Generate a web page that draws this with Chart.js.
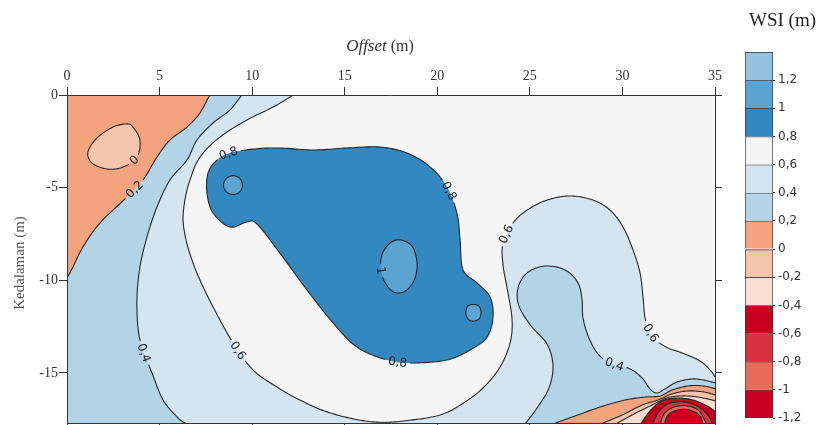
<!DOCTYPE html>
<html>
<head>
<meta charset="utf-8">
<script src="https://cdn.jsdelivr.net/npm/chart.js@4.4.1/dist/chart.umd.min.js"></script>
<style>
  html, body { margin: 0; padding: 0; background: #fff; }
  #wrap { position: relative; width: 822px; height: 425px; overflow: hidden; }
  #main { position: absolute; left: 0; top: 0; }
  #bar { position: absolute; left: 740px; top: 0; }
</style>
</head>
<body>
<div id="wrap">
  <canvas id="main" width="822" height="425"></canvas>
  <canvas id="bar" width="82" height="425"></canvas>
</div>
<script>
// ---- axes ----
const offsetTicks = [0, 5, 10, 15, 20, 25, 30, 35];
const offsetLabels = ['0', '5', '10', '15', '20', '25', '30', '35'];
const depthTicks = [-15, -10, -5, 0];
const depthLabels = ['-15', '-10', '-5', '0'];
const offsetMin = 0, offsetMax = 35;
const depthMin = -17.7, depthMax = 0;

// ---- WSI classes (top edge of each band, then its colour) ----
const bandEdges = [1.4, 1.2, 1, 0.8, 0.6, 0.4, 0.2, 0, -0.2, -0.4, -0.6, -0.8, -1, -1.2];
const bandColors = ['#92c4e0', '#5ba4d1', '#3388c0', '#f5f5f5', '#d4e5ef', '#b3d4e6',
                    '#f3a47f', '#f6c4ab', '#f9ddd2', '#c8001f', '#d93142', '#e86b5c', '#c90020'];
const bandLabels = ['1,2', '1', '0,8', '0,6', '0,4', '0,2', '0', '-0,2', '-0,4', '-0,6', '-0,8', '-1', '-1,2'];

// ---- isolines, [offset m, depth m] ----
const iso06 = [[12.7,0.4],[12.21,0],[11.13,-0.65],[9.72,-1.35],[8.26,-2.27],[7.18,-3.35],[6.64,-4.59],
  [6.37,-5.67],[6.27,-6.74],[6.43,-7.82],[6.75,-8.90],[7.18,-9.98],[7.89,-11.44],[8.97,-13.38],
  [10.05,-14.84],[11.34,-15.76],[12.58,-16.46],[14.04,-17.10],[15.83,-17.55],[17.18,-17.66],
  [18.53,-17.55],[20.15,-17.27],[21.34,-16.67],[22.47,-15.81],[23.39,-14.68],[23.93,-13.38],
  [24.04,-12.14],[23.82,-10.68],[23.55,-9.17],[23.55,-7.99],[24.09,-6.91],[24.85,-6.21],
  [25.93,-5.67],[27.17,-5.45],[28.41,-5.67],[29.33,-6.21],[30.03,-7.12],[30.57,-8.36],
  [30.95,-9.60],[31.11,-10.90],[31.22,-12.03],[31.44,-12.68],[31.87,-13.27],[32.46,-13.65],
  [33.22,-13.92],[34.19,-14.35],[34.78,-14.89],[35.05,-15.27],[35.5,-15.7]];
const iso04West = [[9.9,0.4],[9.45,0],[8.80,-0.81],[7.89,-1.51],[7.02,-2.43],[6.48,-3.51],[5.56,-4.59],
  [4.86,-6.04],[4.32,-7.66],[3.94,-9.28],[3.78,-10.90],[3.83,-12.52],[4.05,-13.60],[4.59,-15.00],
  [5.19,-16.46],[6.00,-17.43],[6.54,-17.81],[6.9,-18.2]];
const iso02West = [[8.1,0.4],[7.72,0],[7.18,-0.97],[6.48,-1.73],[5.56,-2.43],[4.86,-3.35],[4.10,-4.59],
  [3.24,-5.50],[1.78,-6.91],[0.86,-8.20],[0.32,-9.28],[0,-9.87],[-0.4,-10.5]];
const iso00West = [[3.56,-1.73],[3.94,-2.43],[3.78,-3.35],[3.02,-3.89],[2.16,-3.99],[1.35,-3.67],
  [1.13,-3.08],[1.62,-2.32],[2.48,-1.73],[3.24,-1.56]];
const iso08 = [[8.10,-3.51],[8.80,-3.13],[10.15,-2.91],[11.50,-2.86],[13.29,-2.97],[15.12,-2.86],
  [16.91,-2.81],[18.36,-3.13],[19.61,-3.88],[20.52,-4.96],[21.06,-6.37],[21.23,-7.82],[21.39,-9.44],
  [22.15,-10.14],[22.85,-10.90],[23.01,-11.98],[22.69,-13.06],[21.77,-13.76],[20.52,-14.30],
  [18.69,-14.46],[17.28,-14.30],[15.66,-13.60],[14.37,-12.30],[12.96,-10.52],[11.50,-8.53],
  [10.26,-6.96],[9.72,-6.85],[8.80,-7.12],[7.89,-6.37],[7.56,-5.29],[7.62,-4.21]];
const iso10West = [[9.48,-4.86],[9.33,-4.50],[8.97,-4.35],[8.61,-4.50],[8.45,-4.86],[8.61,-5.22],
  [8.97,-5.37],[9.33,-5.22]];
const iso10Mid = [[17.99,-7.82],[18.63,-8.15],[18.90,-9.01],[18.80,-9.87],[18.36,-10.52],[17.82,-10.68],
  [17.34,-10.36],[16.96,-9.55],[17.01,-8.63],[17.45,-7.99]];
const iso10East = [[21.66,-11.38],[22.15,-11.33],[22.36,-11.66],[22.25,-12.09],[21.82,-12.19],[21.55,-11.87]];
const iso04East = [[24.4,-18.2],[24.74,-17.75],[25.39,-16.89],[26.03,-15.81],[26.25,-14.62],[25.93,-13.44],
  [25.06,-12.46],[24.41,-11.38],[24.36,-10.41],[24.85,-9.60],[25.82,-9.23],[26.90,-9.44],[27.60,-10.14],
  [27.82,-11.06],[27.87,-12.03],[28.19,-13.11],[28.73,-14.03],[29.49,-14.51],[30.41,-14.78],
  [31.06,-15.27],[31.49,-15.86],[31.87,-16.08],[32.30,-15.86],[32.95,-15.49],[33.92,-15.32],
  [35.05,-15.54],[35.5,-15.7]];
const iso02East = [[26.09,-17.81],[27.44,-17.32],[28.79,-16.84],[30.14,-16.46],[31.22,-16.30],[32.03,-16.24],
  [32.68,-15.92],[33.54,-15.70],[34.35,-15.70],[35.05,-15.86],[35.5,-16.0]];
const iso00East = [[28.68,-17.81],[29.98,-17.27],[31.06,-16.73],[31.92,-16.46],[32.68,-16.13],[33.54,-15.97],
  [34.35,-16.02],[35.05,-16.19],[35.5,-16.3]];
const isoM02East = [[29.54,-17.81],[30.63,-17.21],[31.60,-16.73],[32.41,-16.35],[33.22,-16.24],[34.08,-16.30],
  [35.05,-16.51],[35.5,-16.65]];
const isoM04East = [[30.95,-17.81],[31.49,-17.05],[32.14,-16.51],[32.95,-16.35],[33.81,-16.46],[34.57,-16.78],
  [35.05,-17.10],[35.4,-17.4]];
const isoM06East = [[31.60,-17.81],[31.92,-17.16],[32.46,-16.67],[33.27,-16.57],[34.03,-16.78],[34.62,-17.27],
  [34.89,-17.81]];
const isoM08East = [[32.03,-17.81],[32.25,-17.21],[32.79,-16.84],[33.49,-16.78],[34.14,-17.05],[34.57,-17.81]];
const isoM10East = [[32.25,-17.81],[32.46,-17.27],[33.00,-17.00],[33.65,-17.00],[34.19,-17.32],[34.35,-17.81]];

// ---- inline isoline labels ----
const isoLabels = [
  { text: '0',   line: iso00West,  at: [3.5, -3.4] },
  { text: '0,2', line: iso02West,  at: [3.62, -5.02] },
  { text: '0,4', line: iso04West,  at: [4.0, -14.03] },
  { text: '0,6', line: iso06,      at: [9.34, -13.76] },
  { text: '0,8', line: iso08,      at: [8.75, -3.35] },
  { text: '0,8', line: iso08,      at: [20.52, -5.24] },
  { text: '0,8', line: iso08,      at: [17.82, -14.41] },
  { text: '1',   line: iso10Mid,   at: [16.96, -9.44] },
  { text: '0,6', line: iso06,      at: [23.93, -7.66] },
  { text: '0,6', line: iso06,      at: [31.54, -12.84] },
  { text: '0,4', line: iso04East,  at: [29.49, -14.62] }
];

const idx = v => bandEdges.findIndex(e => Math.abs(e - v) < 1e-9);
const below = lvl => bandColors[idx(lvl)];       // band just under the level
const above = lvl => bandColors[idx(lvl) - 1];   // band just over the level

// filled areas, painted from the outside in; "edge" closes an open isoline outside the frame
const regions = [
  { pts: iso06,      color: below(0.6),  edge: [[36.5,-15.7],[36.5,-19],[-1,-19],[-1,1],[12.7,1]] },
  { pts: iso04West,  color: below(0.4),  edge: [[6.9,-19],[-1,-19],[-1,1],[9.9,1]] },
  { pts: iso04East,  color: below(0.4),  edge: [[36.5,-15.7],[36.5,-19],[24.4,-19]] },
  { pts: iso02West,  color: below(0.2),  edge: [[-1,-10.5],[-1,1],[8.1,1]] },
  { pts: iso02East,  color: below(0.2),  edge: [[36.5,-16.0],[36.5,-19],[26.09,-19]] },
  { pts: iso00West,  color: below(0),    closed: true },
  { pts: iso00East,  color: below(0),    edge: [[36.5,-16.3],[36.5,-19],[28.68,-19]] },
  { pts: isoM02East, color: below(-0.2), edge: [[36.5,-16.65],[36.5,-19],[29.54,-19]] },
  { pts: isoM04East, color: below(-0.4), edge: [[36.5,-17.4],[36.5,-19],[30.95,-19]] },
  { pts: isoM06East, color: below(-0.6), edge: [[34.89,-19],[31.60,-19]] },
  { pts: isoM08East, color: below(-0.8), edge: [[34.57,-19],[32.03,-19]] },
  { pts: isoM10East, color: below(-1),   edge: [[34.35,-19],[32.25,-19]] },
  { pts: iso08,      color: above(0.8),  closed: true },
  { pts: iso10West,  color: above(1),    closed: true },
  { pts: iso10Mid,   color: above(1),    closed: true },
  { pts: iso10East,  color: above(1),    closed: true }
];

// Catmull-Rom spline through pixel points, returned as a dense polyline
function smooth(p, closed) {
  const n = p.length, out = [];
  const at = i => closed ? p[(i + n) % n] : p[Math.max(0, Math.min(n - 1, i))];
  const segs = closed ? n : n - 1;
  for (let i = 0; i < segs; i++) {
    const p0 = at(i - 1), p1 = at(i), p2 = at(i + 1), p3 = at(i + 2);
    const c1 = { x: p1.x + (p2.x - p0.x) / 6, y: p1.y + (p2.y - p0.y) / 6 };
    const c2 = { x: p2.x - (p3.x - p1.x) / 6, y: p2.y - (p3.y - p1.y) / 6 };
    for (let k = 0; k < 12; k++) {
      const t = k / 12, u = 1 - t;
      out.push({
        x: u*u*u*p1.x + 3*u*u*t*c1.x + 3*u*t*t*c2.x + t*t*t*p2.x,
        y: u*u*u*p1.y + 3*u*u*t*c1.y + 3*u*t*t*c2.y + t*t*t*p2.y
      });
    }
  }
  if (!closed) out.push(p[n - 1]);
  return out;
}

const toPx = (chart, d) => ({ x: chart.scales.x.getPixelForValue(d[0]), y: chart.scales.y.getPixelForValue(d[1]) });

const labelFont = '12px "DejaVu Sans", Verdana, sans-serif';

const contourPlugin = {
  id: 'wsiContours',
  beforeDraw(chart) {
    const { ctx, chartArea: a } = chart;
    ctx.save();
    ctx.fillStyle = '#fff';
    ctx.fillRect(0, 0, chart.width, chart.height);
    ctx.beginPath(); ctx.rect(a.left, a.top, a.right - a.left, a.bottom - a.top); ctx.clip();
    ctx.fillStyle = bandColors[idx(0.8)];
    ctx.fillRect(a.left, a.top, a.right - a.left, a.bottom - a.top);

    const curves = regions.map(r => ({ r, path: smooth(r.pts.map(d => toPx(chart, d)), !!r.closed) }));
    for (const { r, path } of curves) {
      ctx.beginPath();
      path.forEach((q, i) => i ? ctx.lineTo(q.x, q.y) : ctx.moveTo(q.x, q.y));
      (r.edge || []).forEach(d => { const q = toPx(chart, d); ctx.lineTo(q.x, q.y); });
      ctx.closePath();
      ctx.fillStyle = r.color;
      ctx.fill();
    }
    ctx.restore();

    // label placement on the isolines
    ctx.save();
    ctx.font = labelFont;
    const placed = isoLabels.map(l => {
      const path = curves.find(c => c.r.pts === l.line).path;
      const target = toPx(chart, l.at);
      let best = 0, bd = Infinity;
      path.forEach((q, i) => { const d = (q.x - target.x) ** 2 + (q.y - target.y) ** 2; if (d < bd) { bd = d; best = i; } });
      const a0 = path[Math.max(0, best - 3)], a1 = path[Math.min(path.length - 1, best + 3)];
      let ang = Math.atan2(a1.y - a0.y, a1.x - a0.x);
      if (ang > Math.PI / 2) ang -= Math.PI;
      if (ang < -Math.PI / 2) ang += Math.PI;
      return { text: l.text, x: path[best].x, y: path[best].y, ang, w: ctx.measureText(l.text).width };
    });

    // isolines, broken where a label sits
    ctx.beginPath();
    ctx.rect(a.left, a.top, a.right - a.left, a.bottom - a.top);
    placed.forEach(p => {
      const hw = p.w / 2 + 3, hh = 6;
      const c = Math.cos(p.ang), s = Math.sin(p.ang);
      const pts = [[-hw, -hh], [hw, -hh], [hw, hh], [-hw, hh]].map(([u, v]) => [p.x + u * c - v * s, p.y + u * s + v * c]);
      ctx.moveTo(pts[0][0], pts[0][1]);
      pts.slice(1).forEach(q => ctx.lineTo(q[0], q[1]));
      ctx.closePath();
    });
    ctx.clip('evenodd');
    ctx.strokeStyle = '#262626';
    ctx.lineWidth = 1.1;
    ctx.lineJoin = 'round';
    for (const { r, path } of curves) {
      ctx.beginPath();
      path.forEach((q, i) => i ? ctx.lineTo(q.x, q.y) : ctx.moveTo(q.x, q.y));
      if (r.closed) ctx.closePath();
      ctx.stroke();
    }
    ctx.restore();

    ctx.save();
    ctx.font = labelFont;
    ctx.fillStyle = '#222';
    ctx.textAlign = 'center';
    ctx.textBaseline = 'middle';
    placed.forEach(p => {
      ctx.save();
      ctx.translate(p.x, p.y);
      ctx.rotate(p.ang);
      ctx.fillText(p.text, 0, 0.5);
      ctx.restore();
    });
    ctx.restore();
  },
  afterDraw(chart) {
    const { ctx } = chart;
    ctx.save();
    ctx.fillStyle = '#333';
    ctx.textBaseline = 'alphabetic';
    ctx.textAlign = 'left';
    ctx.font = 'italic 17px "Liberation Serif", "Times New Roman", serif';
    const w1 = ctx.measureText('Offset').width;
    ctx.font = '16px "Liberation Serif", "Times New Roman", serif';
    const w2 = ctx.measureText(' (m)').width;
    const x0 = 380 - (w1 + w2) / 2;
    ctx.font = 'italic 17px "Liberation Serif", "Times New Roman", serif';
    ctx.fillText('Offset', x0, 51);
    ctx.font = '16px "Liberation Serif", "Times New Roman", serif';
    ctx.fillText(' (m)', x0 + w1, 51);

    ctx.fillStyle = '#555';
    ctx.font = '15px "Liberation Serif", "Times New Roman", serif';
    ctx.textAlign = 'center';
    ctx.textBaseline = 'middle';
    ctx.translate(20, 263);
    ctx.rotate(-Math.PI / 2);
    ctx.fillText('Kedalaman (m)', 0, 0);
    ctx.restore();

    ctx.save();
    ctx.fillStyle = '#222';
    ctx.font = '19px "Liberation Serif", "Times New Roman", serif';
    ctx.textAlign = 'left';
    ctx.textBaseline = 'alphabetic';
    ctx.fillText('WSI (m)', 749, 26);
    ctx.restore();
  }
};

// pin an axis to a fixed thickness and drop the label overhang Chart.js reserves at its ends
const pin = (prop, size) => s => {
  s[prop] = size;
  s.paddingTop = 0; s.paddingBottom = 0; s.paddingLeft = 0; s.paddingRight = 0;
};

const tickFont = { family: '"Liberation Serif", "Times New Roman", serif', size: 14 };
const axisBase = {
  type: 'linear',
  grid: { drawOnChartArea: false, drawTicks: true, tickLength: 8, color: '#333' },
  border: { display: true, color: '#333', width: 1 }
};

new Chart(document.getElementById('main'), {
  type: 'scatter',
  data: { datasets: [] },
  options: {
    responsive: false,
    animation: false,
    events: [],
    layout: { padding: 0 },
    plugins: { legend: { display: false }, tooltip: { enabled: false } },
    scales: {
      x: {
        ...axisBase, position: 'top', min: offsetMin, max: offsetMax,
        afterBuildTicks: s => { s.ticks = offsetTicks.map(v => ({ value: v })); },
        ticks: { font: tickFont, color: '#333', padding: 2, maxRotation: 0, callback: (v, i) => offsetLabels[i] },
        afterFit: pin('height', 95)
      },
      x2: {
        ...axisBase, position: 'bottom', min: offsetMin, max: offsetMax,
        afterBuildTicks: s => { s.ticks = offsetTicks.map(v => ({ value: v })); },
        ticks: { display: false },
        afterFit: pin('height', 2)
      },
      y: {
        ...axisBase, position: 'left', min: depthMin, max: depthMax,
        afterBuildTicks: s => { s.ticks = depthTicks.map(v => ({ value: v })); },
        ticks: { font: tickFont, color: '#333', padding: 1, callback: (v, i) => depthLabels[i] },
        afterFit: pin('width', 67)
      },
      y2: {
        ...axisBase, position: 'right', min: depthMin, max: depthMax,
        grid: { drawOnChartArea: false, drawTicks: true, tickLength: 7, color: '#333' },
        afterBuildTicks: s => { s.ticks = depthTicks.map(v => ({ value: v })); },
        ticks: { display: false },
        afterFit: pin('width', 107)
      }
    }
  },
  plugins: [contourPlugin]
});

// ---- colour scale ----
const nBands = bandColors.length;
const scaleTicks = bandEdges.slice(1).reverse();
const scaleLabels = bandLabels.slice().reverse();
new Chart(document.getElementById('bar'), {
  type: 'bar',
  data: {
    labels: ['WSI'],
    datasets: bandColors.map((c, i) => ({
      data: [[bandEdges[i + 1], bandEdges[i]]],
      backgroundColor: c,
      borderColor: '#3a3a3a',
      borderWidth: { top: 1, left: 1, right: 1, bottom: i === nBands - 1 ? 1 : 0 },
      borderSkipped: false,
      grouped: false,
      barPercentage: 1,
      categoryPercentage: 1
    }))
  },
  options: {
    responsive: false,
    animation: false,
    events: [],
    layout: { padding: { top: 52, bottom: 7, left: 5, right: 0 } },
    plugins: { legend: { display: false }, tooltip: { enabled: false } },
    scales: {
      x: { display: false, stacked: false },
      y: {
        position: 'right', min: -1.2, max: 1.4,
        afterBuildTicks: s => { s.ticks = scaleTicks.map(v => ({ value: v })); },
        ticks: { font: { family: '"DejaVu Sans", Verdana, sans-serif', size: 12 }, color: '#333', padding: 3,
                 callback: (v, i) => scaleLabels[i] },
        grid: { drawOnChartArea: false, drawTicks: true, tickLength: 2, color: '#333' },
        border: { display: false },
        afterFit: pin('width', 49)
      }
    }
  }
});
</script>
</body>
</html>
